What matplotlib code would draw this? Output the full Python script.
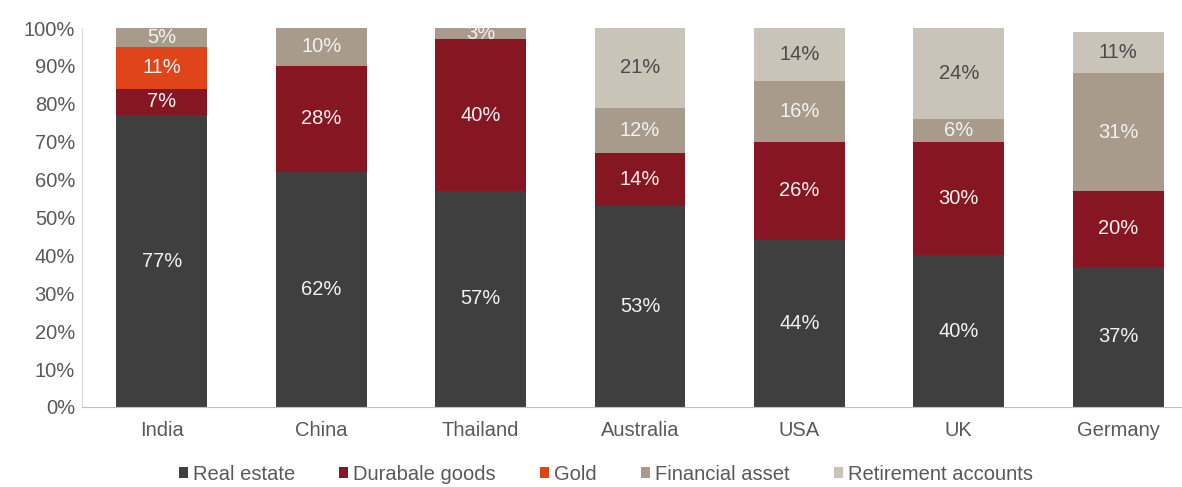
import numpy as np
import matplotlib
matplotlib.use("Agg")
import matplotlib.pyplot as plt
from matplotlib.ticker import PercentFormatter

plt.rcParams['font.family'] = ['Liberation Sans', 'DejaVu Sans']

countries = ["India", "China", "Thailand", "Australia", "USA", "UK", "Germany"]
real_estate = [77, 62, 57, 53, 44, 40, 37]
durable_goods = [7, 28, 40, 14, 26, 30, 20]
gold = [11, 0, 0, 0, 0, 0, 0]
financial_asset = [5, 10, 3, 12, 16, 6, 31]
retirement = [0, 0, 0, 21, 14, 24, 11]

series = [
    ("Real estate", real_estate, "#3f3f3f", "#f2f2f2"),
    ("Durabale goods", durable_goods, "#861622", "#f2f2f2"),
    ("Gold", gold, "#e0441a", "#f2f2f2"),
    ("Financial asset", financial_asset, "#a89b8c", "#f2f2f2"),
    ("Retirement accounts", retirement, "#c9c3b8", "#4a4a4a"),
]

fig = plt.figure(figsize=(11.82, 4.87), dpi=100)
ax = fig.add_axes([82 / 1182, 80 / 487, 1100 / 1182, 379 / 487])

x = np.arange(len(countries))
bottom = np.zeros(len(countries))
for name, vals, color, tcolor in series:
    vals = np.array(vals, dtype=float)
    ax.bar(x, vals, bottom=bottom, width=0.57, color=color, label=name)
    for xi, b, v in zip(x, bottom, vals):
        if v > 0:
            ax.text(xi, b + v / 2, f"{int(v)}%", ha="center", va="center",
                    color=tcolor, fontsize=14.5)
    bottom += vals

ax.set_xlim(-0.5, 6.4)
ax.set_ylim(0, 100)
ax.set_yticks(range(0, 101, 10))
ax.yaxis.set_major_formatter(PercentFormatter(decimals=0))
ax.set_xticks(x)
ax.set_xticklabels(countries)
ax.tick_params(axis="both", colors="#595959", labelsize=14.5, length=0)
ax.tick_params(axis="x", pad=10)
ax.tick_params(axis="y", pad=5)
for s in ["top", "right"]:
    ax.spines[s].set_visible(False)
ax.spines["left"].set_color("#d9d9d9")
ax.spines["bottom"].set_color("#bfbfbf")

ax.legend(loc="center", bbox_to_anchor=(524 / 1100, -0.177), ncol=5, frameon=False,
          fontsize=14.5, handlelength=0.45, handleheight=0.45, handletextpad=0.25,
          columnspacing=2.2, labelcolor="#595959")

fig.savefig("out.png", dpi=100)
